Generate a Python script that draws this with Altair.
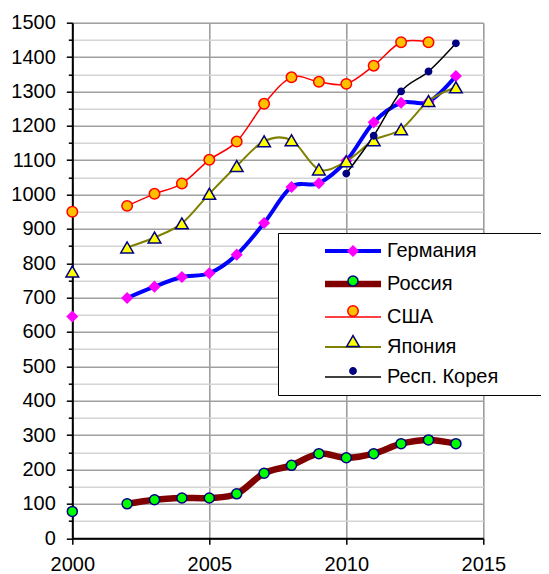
import altair as alt
import pandas as pd

names = ["Германия", "Россия", "США", "Япония", "Респ. Корея"]

years_full = [2000, 2002, 2003, 2004, 2005, 2006, 2007, 2008, 2009, 2010, 2011, 2012, 2013, 2014]
years_usa = [2000, 2002, 2003, 2004, 2005, 2006, 2007, 2008, 2009, 2010, 2011, 2012, 2013]
years_korea = [2010, 2011, 2012, 2013, 2014]

germany = [645, 699, 732, 760, 771, 825, 917, 1022, 1033, 1098, 1210, 1267, 1270, 1345]
russia = [78, 100, 112, 117, 117, 129, 189, 212, 246, 234, 246, 275, 286, 275]
usa = [950, 967, 1002, 1032, 1101, 1154, 1264, 1341, 1328, 1322, 1375, 1443, 1443]
japan = [776, 846, 875, 916, 1002, 1083, 1155, 1158, 1073, 1097, 1158, 1190, 1272, 1312]
korea = [1061, 1171, 1300, 1358, 1440]

x_ticks = [2000, 2005, 2010, 2015]
y_ticks = list(range(0, 1501, 50))

line_colors = ["#0000FF", "#800000", "#FF0000", "#808000", "#000000"]
line_widths = [4, 6.5, 1.5, 2, 1.5]
fill_colors = ["#FF00FF", "#00FF00", "#FFC000", "#FFFF00", "#000080"]
edge_colors = ["#FF00FF", "#000080", "#FF0000", "#000080", "#000080"]
shapes = ["diamond", "circle", "circle", "triangle-up", "circle"]
sizes = [100, 100, 110, 160, 40]

# marker keys: same names with a zero-width suffix so the marker legend stays separate
marker_keys = [n + "\u200b" for n in names]

series = [
    (0, years_full, germany),
    (1, years_full, russia),
    (2, years_usa, usa),
    (3, years_full, japan),
    (4, years_korea, korea),
]
rows = []
for i, yrs, vals in series:
    for yr, v in zip(yrs, vals):
        rows.append({"series": names[i], "marker": marker_keys[i], "year": yr, "value": v})
df = pd.DataFrame(rows)

FONT = "Liberation Sans"

x = alt.X(
    "year:Q",
    scale=alt.Scale(domain=[2000, 2015], nice=False, zero=False),
    axis=alt.Axis(
        values=x_ticks, format="d", title=None, labelFontSize=20, labelFont=FONT,
        labelColor="black", tickSize=6, tickWidth=1.5, tickColor="black",
        labelPadding=10, labelFlush=False, grid=True, gridColor="#999999",
        gridWidth=1.5, domainColor="black", domainWidth=2,
    ),
)
y = alt.Y(
    "value:Q",
    scale=alt.Scale(domain=[0, 1500], nice=False, zero=True),
    axis=alt.Axis(
        values=y_ticks, format="d", title=None,
        labelExpr="datum.value % 100 == 0 ? datum.label : ''",
        labelFontSize=20, labelFont=FONT, labelColor="black",
        tickSize={"condition": {"test": "datum.value % 100 == 0", "value": 6}, "value": 4},
        tickWidth=1.5, tickColor="black", labelPadding=11, labelFlush=False,
        labelOverlap=False, grid=True,
        gridColor={"condition": {"test": "datum.value % 100 == 0", "value": "#a0a0a0"}, "value": "#d4d4d4"},
        gridWidth=1.5, domainColor="black", domainWidth=2,
    ),
)

pad = "\u00a0" * 7 + "\u2009" + "\u200b"
common = dict(
    title=None, orient="none", legendX=205.7, legendY=210.3,
    labelFontSize=20, labelFont=FONT, labelColor="black",
    padding=8, rowPadding=10, symbolOffset=57, labelOffset=24,
    labelLimit=400, symbolLimit=0,
    labelExpr="datum.label + '" + pad + "'",
)
leg_lines = alt.Legend(
    symbolType="M-5.6,0H5.6", symbolSize=100, strokeColor="black",
    fillColor="white", zindex=1, **common,
)
leg_points = alt.Legend(labelOpacity=0, zindex=2, symbolStrokeWidth=1.5, **common)

lines = alt.Chart(df).transform_filter("datum.year >= 2002").mark_line(
    interpolate="cardinal"
).encode(
    x=x, y=y,
    stroke=alt.Stroke("series:N", scale=alt.Scale(domain=names, range=line_colors), legend=leg_lines),
    strokeWidth=alt.StrokeWidth(
        "series:N", scale=alt.Scale(type="ordinal", domain=names, range=line_widths), legend=leg_lines
    ),
)

points = alt.Chart(df).mark_point(filled=False, strokeWidth=1.5, opacity=1).encode(
    x=x, y=y,
    color=alt.Color("marker:N", scale=alt.Scale(domain=marker_keys, range=edge_colors), legend=leg_points),
    fill=alt.Fill("marker:N", scale=alt.Scale(domain=marker_keys, range=fill_colors), legend=leg_points),
    shape=alt.Shape("marker:N", scale=alt.Scale(domain=marker_keys, range=shapes), legend=leg_points),
    size=alt.Size("marker:N", scale=alt.Scale(type="ordinal", domain=marker_keys, range=sizes), legend=leg_points),
)

chart = alt.layer(lines, points).properties(
    width=411, height=515.5,
    autosize=alt.AutoSizeParams(type="none"),
    padding={"left": 64.3, "top": 14.7, "right": 57.7, "bottom": 37},
).configure_view(stroke="#999999", strokeWidth=2).configure(font=FONT)

chart.save("out.html", embed_options={"renderer": "svg", "actions": False})
